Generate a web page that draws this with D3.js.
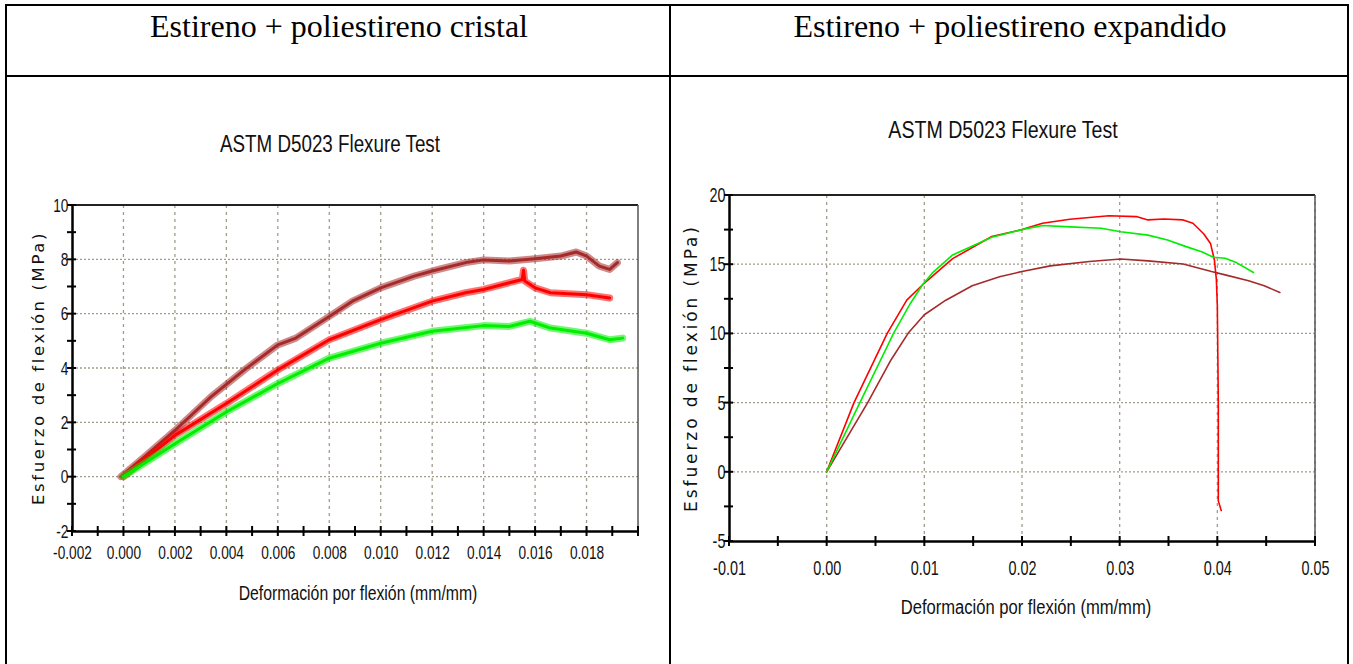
<!DOCTYPE html>
<html><head><meta charset="utf-8">
<script src="https://cdn.jsdelivr.net/npm/d3@7"></script>
<style>
body{margin:0;background:#fff;}
svg{display:block;}
.hdr{font-family:"Liberation Serif","Times New Roman",serif;font-size:32px;fill:#000;}
.ttl,.xlab,.tick text{font-family:"Liberation Sans",Arial,sans-serif;fill:#111;}
.ylab{font-family:"DejaVu Sans",Verdana,sans-serif;fill:#111;}
</style></head>
<body>
<svg id="c" width="1353" height="664"></svg>
<script>
// ---------- data ----------
const headers = ["Estireno + poliestireno cristal", "Estireno + poliestireno expandido"];
const chartTitle = "ASTM D5023 Flexure Test";
const xTitle = "Deformación por flexión (mm/mm)";
const yTitle = "Esfuerzo de flexión (MPa)";
const seriesColors = ["#a52a2a", "#ff0000", "#00ee00"];

// Left chart: Estireno + poliestireno cristal (strain, stress MPa)
const leftXTicks = [-0.002,0.000,0.002,0.004,0.006,0.008,0.010,0.012,0.014,0.016,0.018];
const leftYTicks = [-2,0,2,4,6,8,10];
const cristalBrown = [[-0.0001,0],[0.0008,0.72],[0.002,1.7],[0.0034,2.94],[0.0047,3.93],[0.006,4.85],[0.0067,5.1],[0.008,5.9],[0.0089,6.46],[0.010,6.95],[0.0113,7.38],[0.012,7.57],[0.0133,7.88],[0.014,7.98],[0.015,7.94],[0.016,8.02],[0.017,8.12],[0.0176,8.27],[0.018,8.12],[0.0185,7.75],[0.0189,7.63],[0.0192,7.88]];
const cristalRed = [[0,0],[0.002,1.52],[0.004,2.69],[0.006,3.93],[0.008,5.04],[0.010,5.78],[0.012,6.46],[0.0133,6.77],[0.014,6.89],[0.015,7.14],[0.0155,7.26],[0.01555,7.6],[0.0156,7.2],[0.016,6.95],[0.0166,6.77],[0.018,6.7],[0.0189,6.58]];
const cristalGreen = [[0,0],[0.002,1.21],[0.004,2.38],[0.006,3.43],[0.008,4.36],[0.010,4.91],[0.012,5.35],[0.014,5.56],[0.015,5.53],[0.0158,5.72],[0.0166,5.47],[0.018,5.28],[0.0189,5.04],[0.0194,5.1]];

// Right chart: Estireno + poliestireno expandido
const rightXTicks = [-0.01,0.00,0.01,0.02,0.03,0.04,0.05];
const rightYTicks = [-5,0,5,10,15,20];
const expBrown = [[0,0],[0.0042,5],[0.0066,8.1],[0.0084,10.07],[0.010,11.35],[0.0122,12.4],[0.0149,13.44],[0.0177,14.1],[0.020,14.47],[0.0229,14.88],[0.0269,15.19],[0.0301,15.38],[0.0329,15.24],[0.0365,15.02],[0.0394,14.47],[0.0408,14.23],[0.0432,13.8],[0.0448,13.44],[0.0464,12.96]];
const expRed = [[0,0],[0.0028,5],[0.0062,10.0],[0.0082,12.4],[0.0098,13.5],[0.0129,15.4],[0.0169,17.0],[0.020,17.5],[0.0221,17.96],[0.0249,18.25],[0.0289,18.5],[0.0317,18.44],[0.0329,18.2],[0.0345,18.27],[0.0365,18.2],[0.0375,17.96],[0.0386,17.2],[0.0393,16.5],[0.0397,15.3],[0.0399,13.9],[0.0400,12],[0.0401,5],[0.0401,0],[0.0401,-2.1],[0.0404,-2.8]];
const expGreen = [[0,0],[0.0034,5.0],[0.0069,10.07],[0.0086,12.2],[0.0098,13.5],[0.0108,14.35],[0.0129,15.67],[0.0169,16.95],[0.020,17.5],[0.0221,17.8],[0.0249,17.7],[0.0281,17.6],[0.0301,17.35],[0.0329,17.1],[0.0349,16.75],[0.0368,16.27],[0.0384,15.9],[0.0396,15.5],[0.0408,15.43],[0.042,15.1],[0.0437,14.4]];

// ---------- drawing ----------
const svg = d3.select("#c");

// table frame
const tbl = svg.append("g").attr("stroke","#000").attr("stroke-width",2).attr("fill","none");
tbl.append("line").attr("x1",6).attr("x2",1348).attr("y1",5).attr("y2",5);
tbl.append("line").attr("x1",6).attr("x2",1348).attr("y1",76).attr("y2",76);
[6,670,1348].forEach(x=>tbl.append("line").attr("x1",x).attr("x2",x).attr("y1",4).attr("y2",664));
svg.append("text").attr("class","hdr").attr("x",339).attr("y",37).attr("text-anchor","middle").text(headers[0]);
svg.append("text").attr("class","hdr").attr("x",1010).attr("y",37).attr("text-anchor","middle").text(headers[1]);

function chart(cfg){
  const g = svg.append("g");
  const x = d3.scaleLinear().domain(cfg.xd).range([cfg.x0,cfg.x1]);
  const y = d3.scaleLinear().domain(cfg.yd).range([cfg.y0,cfg.y1]);
  // grid
  g.append("g").selectAll("line").data(cfg.xt.slice(1)).join("line")
    .attr("x1",d=>x(d)).attr("x2",d=>x(d)).attr("y1",cfg.y1).attr("y2",cfg.y0)
    .attr("stroke","#a29c8c").attr("stroke-width",1.3).attr("stroke-dasharray","3,4");
  g.append("g").selectAll("line").data(cfg.yt.slice(1,-1)).join("line")
    .attr("x1",cfg.x0).attr("x2",cfg.x1).attr("y1",d=>y(d)).attr("y2",d=>y(d))
    .attr("stroke","#a29c8c").attr("stroke-width",1.3).attr("stroke-dasharray","2,2");
  // frame top/right
  g.append("line").attr("x1",cfg.x0).attr("x2",cfg.x1).attr("y1",cfg.y1).attr("y2",cfg.y1).attr("stroke","#222").attr("stroke-width",2);
  g.append("line").attr("x1",cfg.x1).attr("x2",cfg.x1).attr("y1",cfg.y1).attr("y2",cfg.y0).attr("stroke","#555").attr("stroke-width",1.5);
  // curves
  const line = d3.line().x(d=>x(d[0])).y(d=>y(d[1])).curve(d3.curveLinear);
  cfg.series.forEach((s,i)=>{
    if (cfg.band) {
      g.append("path").datum(s).attr("d",line).attr("fill","none")
        .attr("stroke",seriesColors[i]).attr("stroke-width",cfg.band)
        .attr("stroke-linejoin","round").attr("stroke-linecap","round").attr("opacity",0.55);
    }
    g.append("path").datum(s).attr("d",line).attr("fill","none")
      .attr("stroke",seriesColors[i]).attr("stroke-width",cfg.sw)
      .attr("stroke-linejoin","round").attr("stroke-linecap","round");
  });
  // axes
  const xa = d3.axisBottom(x).tickValues(cfg.xt).tickSize(0).tickPadding(cfg.xpad);
  const xag = g.append("g").attr("transform",`translate(0,${cfg.y0})`).call(xa);
  xag.select(".domain").attr("stroke","#000").attr("stroke-width",2.5);
  xag.selectAll(".tick text").text(d=>d3.format(cfg.xf)(d).replace("−","-"))
    .attr("font-size",cfg.fs).attr("transform",`scale(${cfg.sx},1)`);
  const xm = d3.range(cfg.xd[0], cfg.xd[1]+cfg.xmin/2, cfg.xmin);
  g.append("g").selectAll("line").data(xm).join("line")
    .attr("x1",d=>x(d)).attr("x2",d=>x(d)).attr("y1",cfg.y0-5).attr("y2",cfg.y0+5)
    .attr("stroke","#000").attr("stroke-width",2);
  const ya = d3.axisLeft(y).tickValues(cfg.yt).tickSize(0).tickPadding(5);
  const yag = g.append("g").attr("transform",`translate(${cfg.x0},0)`).call(ya);
  yag.select(".domain").attr("stroke","#000").attr("stroke-width",2.5);
  yag.selectAll(".tick text").text(d=>String(d))
    .attr("font-size",cfg.fs).attr("transform",`scale(${cfg.sx},1)`);
  const ym = d3.range(cfg.yd[0], cfg.yd[1]+cfg.ymin/2, cfg.ymin);
  g.append("g").selectAll("line").data(ym).join("line")
    .attr("x1",cfg.x0-5).attr("x2",cfg.x0+4).attr("y1",d=>y(d)).attr("y2",d=>y(d))
    .attr("stroke","#000").attr("stroke-width",2);
  // titles
  g.append("text").attr("class","ttl").attr("font-size",cfg.tfs).attr("text-anchor","middle")
    .attr("transform",`translate(${cfg.tx},${cfg.ty}) scale(0.8,1)`).text(chartTitle);
  g.append("text").attr("class","xlab").attr("font-size",cfg.lfs).attr("text-anchor","middle")
    .attr("transform",`translate(${cfg.lx},${cfg.ly}) scale(0.79,1)`).text(xTitle);
  g.append("text").attr("class","ylab").attr("text-anchor","middle").attr("font-size",cfg.yfs)
    .attr("letter-spacing",cfg.yls)
    .attr("transform",`translate(${cfg.yx},${cfg.yy}) rotate(-90)`).text(yTitle);
}

chart({xd:[-0.002,0.020], yd:[-2,10], x0:72, x1:638, y0:531, y1:205,
  xt:leftXTicks, yt:leftYTicks, xf:".3f", xmin:0.001, ymin:1, xpad:15, fs:19, sx:0.72,
  series:[cristalBrown,cristalRed,cristalGreen], sw:3, band:7,
  tfs:23.5, tx:330, ty:152, lfs:20, lx:358, ly:600, yfs:16.5, yls:2.6, yx:44, yy:368});

chart({xd:[-0.01,0.05], yd:[-5,20], x0:729, x1:1315, y0:541, y1:195,
  xt:rightXTicks, yt:rightYTicks, xf:".2f", xmin:0.005, ymin:2.5, xpad:20, fs:20, sx:0.72,
  series:[expBrown,expRed,expGreen], sw:1.6, band:0,
  tfs:24.5, tx:1003, ty:138, lfs:21, lx:1026, ly:614, yfs:17, yls:2.9, yx:697, yy:368});
</script>
</body></html>
